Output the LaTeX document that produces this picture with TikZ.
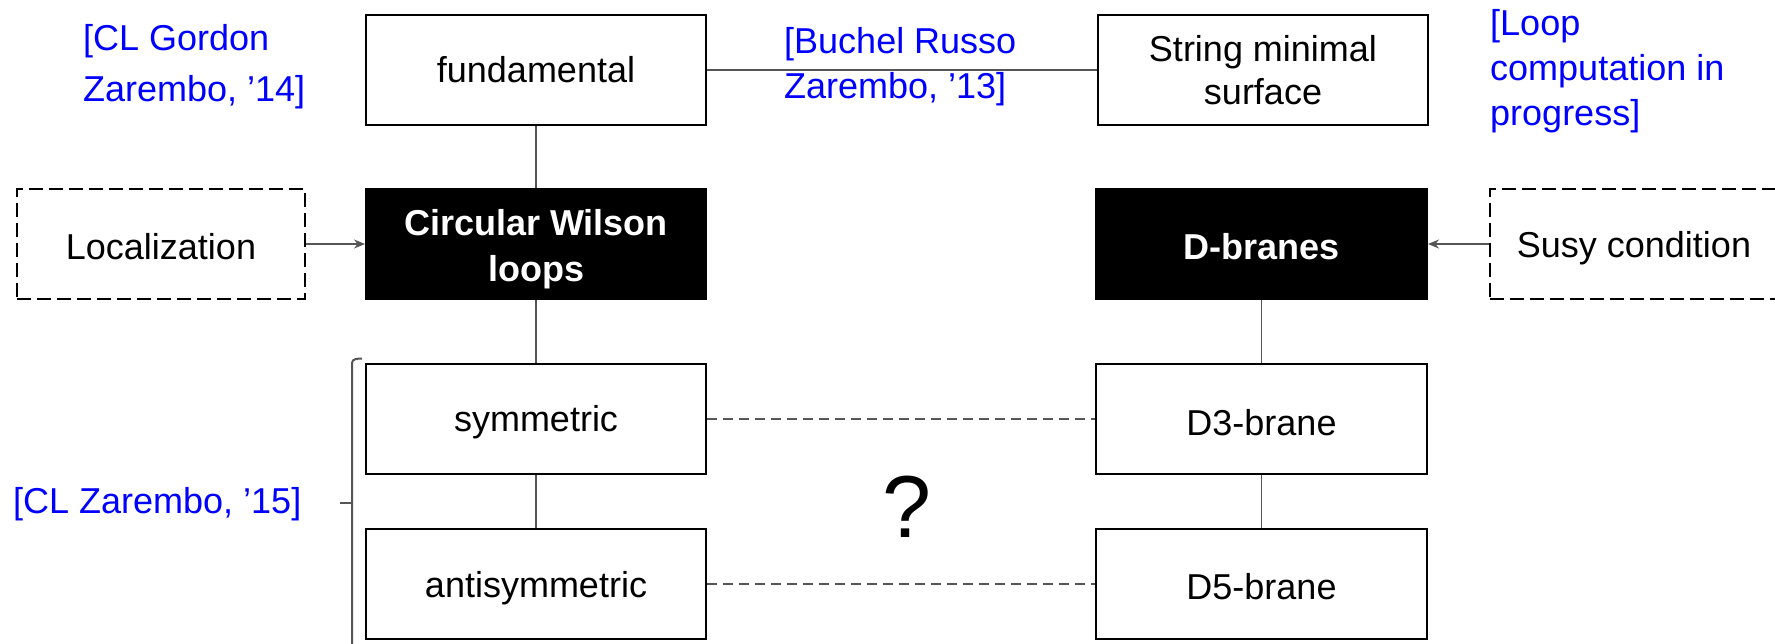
\documentclass[tikz,border=0pt]{standalone}
\usepackage{fontspec}
\setmainfont{Liberation Sans}
\usetikzlibrary{arrows.meta}
\definecolor{refblue}{RGB}{0,0,255}
\definecolor{linegray}{RGB}{85,85,85}
\begin{document}
\begin{tikzpicture}[x=1pt,y=-1pt,
  box/.style={draw=black, line width=2pt, minimum width=340pt, minimum height=110pt, align=center, inner sep=0pt, font=\fontsize{36}{43}\selectfont},
  darkbox/.style={box, fill=black, text=white, font=\fontsize{36}{46}\selectfont\bfseries},
  dashbox/.style={box, dash pattern=on 14pt off 6pt, minimum width=288pt},
  sink/.style={execute at begin node={\rule{0pt}{#1}}},
  ref/.style={text=refblue, align=left, inner sep=0pt, anchor=base west},
  conn/.style={draw=linegray, line width=1.5pt},
  dconn/.style={conn, dash pattern=on 10pt off 6pt},
  arr/.style={conn, -{Stealth[length=11pt,width=9pt]}}
]
\useasboundingbox (0,0) rectangle (1775,643);
\clip (0,0) rectangle (1775,643);
\fill[white] (0,0) rectangle (1775,643);

% boxes
\node[box] (fund) at (536,70) {fundamental};
\node[box, minimum width=330pt] (string) at (1263,70) {String minimal\\surface};
\node[darkbox] (cwl) at (536,244) {\rule{0pt}{37pt}Circular Wilson\\loops};
\node[darkbox, sink=32pt, minimum width=331pt] (dbr) at (1261.5,244) {D-branes};
\node[dashbox, sink=32pt] (loc) at (161,244) {Localization};
\node[dashbox, sink=34pt] (susy) at (1634,244) {Susy condition};
\node[box, sink=33pt] (sym) at (536,419) {symmetric};
\node[box, sink=34pt] (anti) at (536,584) {antisymmetric};
\node[box, sink=34pt, minimum width=331pt] (d3) at (1261.5,419) {D3-brane};
\node[box, sink=32pt, minimum width=331pt] (d5) at (1261.5,584) {D5-brane};

% references (base anchor = baseline of last line)
\node[ref, font=\fontsize{36}{51}\selectfont] (r14) at (83,101) {[CL Gordon\\Zarembo, ’14]};
\node[ref, font=\fontsize{36}{45}\selectfont] (r13) at (784,98) {[Buchel Russo\\Zarembo, ’13]};
\node[ref, font=\fontsize{36}{45}\selectfont] (rloop) at (1490,125) {[Loop\\computation in\\progress]};
\node[ref, font=\fontsize{36}{43}\selectfont] (r15) at (13,513) {[CL Zarembo, ’15]};
\node[inner sep=0pt, font=\fontsize{88}{88}\selectfont] (q) at (907,507) {?};

% connectors
\draw[conn] (fund) -- (cwl);
\draw[conn] (fund) -- (string);
\draw[conn] (cwl) -- (sym);
\draw[conn] (sym) -- (anti);
\draw[conn] (dbr) -- (d3);
\draw[conn] (d3) -- (d5);
\draw[dconn] (sym) -- (d3);
\draw[dconn] (anti) -- (d5);
\draw[arr] (loc) -- (cwl);
\draw[arr] (susy) -- (dbr);

% brace
\draw[conn, line width=2pt] (362,358.5) to[out=180,in=90] (352,363) -- (352,650);
\draw[conn, line width=2.5pt] (352,503) -- (340,503);
\end{tikzpicture}
\end{document}
